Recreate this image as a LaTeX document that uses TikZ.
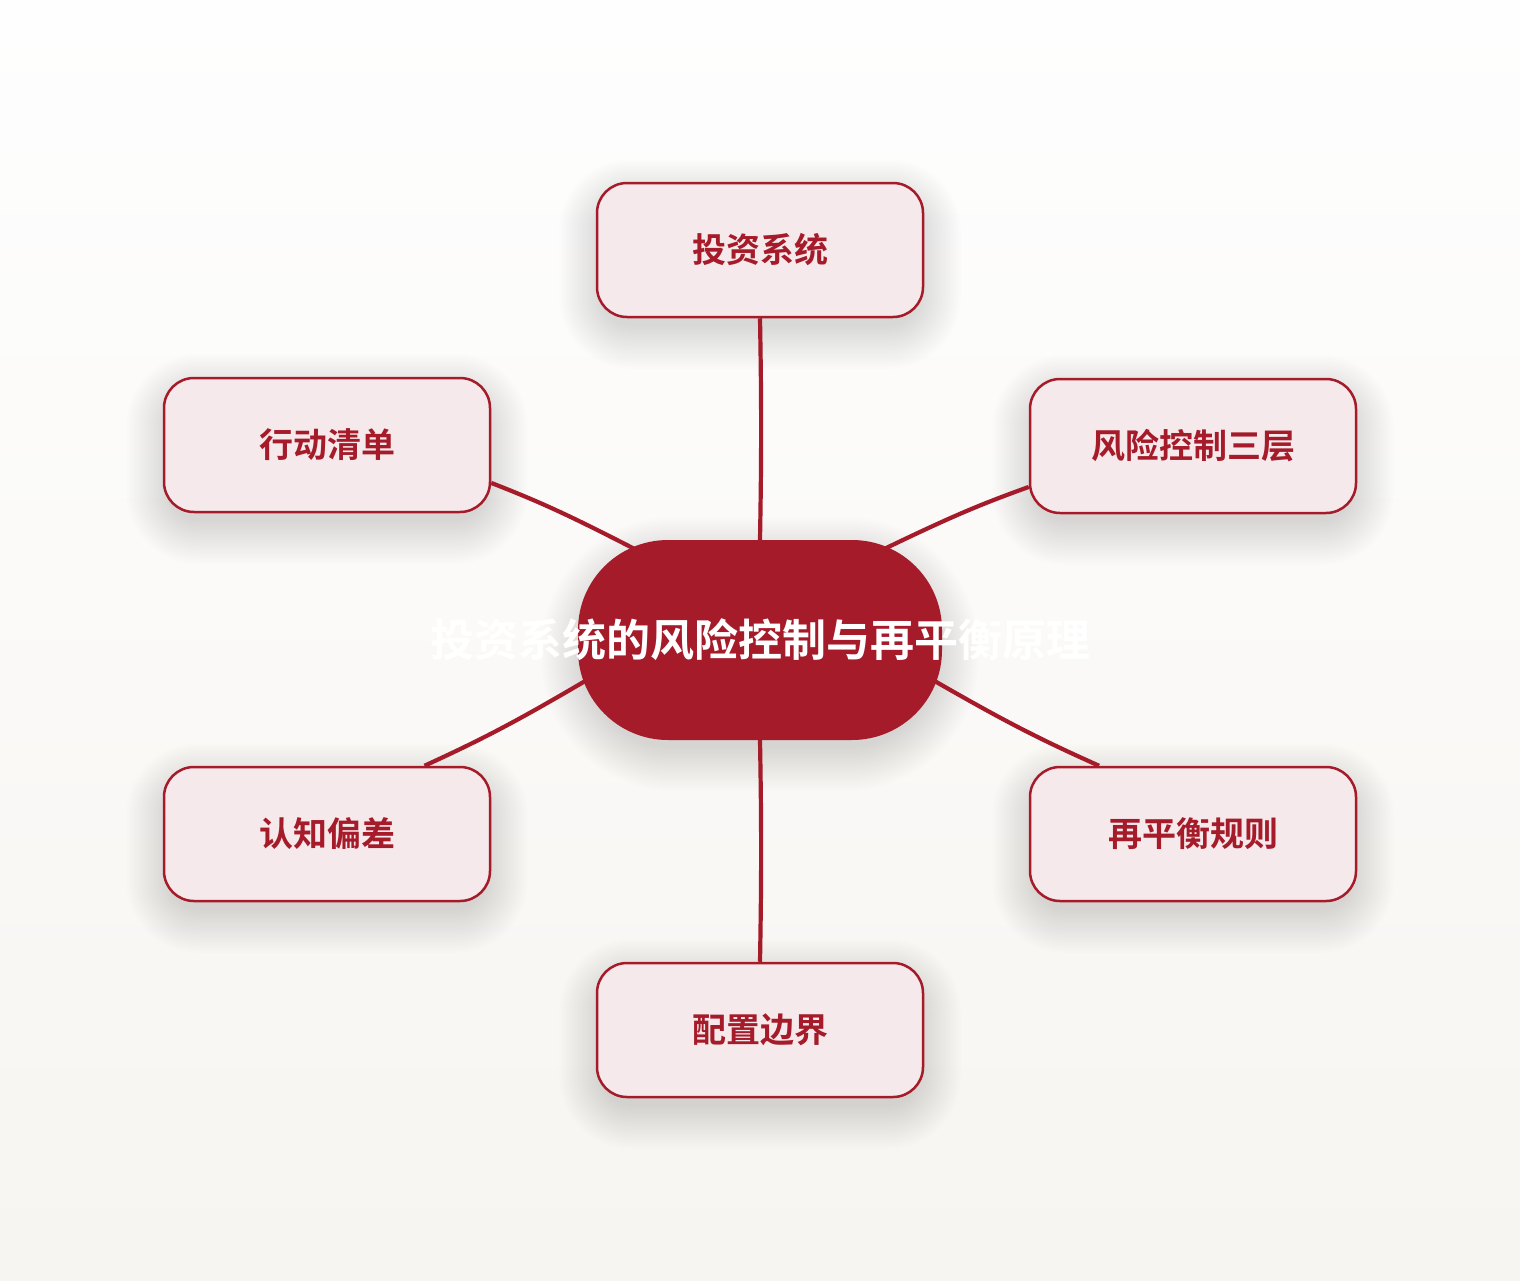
\documentclass[tikz,border=0pt]{standalone}
\usepackage{fontspec}
\newfontfamily\cjk{Noto Sans CJK SC}[UprightFont=* Bold]
\definecolor{brand}{RGB}{165,27,42}
\definecolor{satfill}{RGB}{245,233,235}
\definecolor{bgtop}{RGB}{254,254,254}
\definecolor{bgbot}{RGB}{247,245,241}
\pgfdeclarelayer{bg}
\pgfdeclarelayer{shadow}
\pgfdeclarelayer{edges}
\pgfsetlayers{bg,shadow,edges,main}
\newcommand\softshadow[2]{%
  \begin{pgfonlayer}{shadow}
  \foreach \i in {0,...,17}{
    \pgfmathsetlengthmacro\rr{#2+2.5*\i}
    \pgfmathsetlengthmacro\dd{2.5*\i-6}
    \fill[black,opacity=0.0085,rounded corners=\rr]
      ([xshift=-\dd,yshift=-14pt-\dd]#1.south west) rectangle
      ([xshift=\dd,yshift=-14pt+\dd]#1.north east);
  }
  \end{pgfonlayer}}
\tikzset{
  satbox/.style={draw=brand,line width=2.5pt,fill=satfill,rounded corners=30pt,
    minimum width=326pt,minimum height=134pt,inner sep=0pt,
    font=\cjk\fontsize{34}{40}\selectfont,text=brand},
  hub/.style={fill=brand,rounded corners=90pt,minimum width=364pt,minimum height=200pt,
    inner sep=0pt,font=\cjk\fontsize{44}{52}\selectfont,text=white},
  link/.style={draw=brand,line width=4.2pt}
}
\begin{document}
\begin{tikzpicture}[x=1pt,y=-1pt]
\useasboundingbox (0,0) rectangle (1520,1280);
\begin{pgfonlayer}{bg}
\shade[top color=bgtop,bottom color=bgbot] (0,0) rectangle (1520,1280);
\end{pgfonlayer}

\node[hub] (c) at (760,640) {\makebox[0pt]{\raisebox{-2pt}{投资系统的风险控制与再平衡原理}}};
\node[satbox] (t) at (760,250) {\raisebox{-3pt}{投资系统}};
\node[satbox] (tl) at (327,445) {\raisebox{-3pt}{行动清单}};
\node[satbox] (tr) at (1193,446) {\raisebox{-3pt}{风险控制三层}};
\node[satbox] (bl) at (327,834) {\raisebox{-3pt}{认知偏差}};
\node[satbox] (br) at (1193,834) {\raisebox{-3pt}{再平衡规则}};
\node[satbox] (b) at (760,1030) {\raisebox{-3pt}{配置边界}};

\softshadow{c}{90pt}
\softshadow{t}{30pt}
\softshadow{tl}{30pt}
\softshadow{tr}{30pt}
\softshadow{bl}{30pt}
\softshadow{br}{30pt}
\softshadow{b}{30pt}

\begin{pgfonlayer}{edges}
\draw[link] (t.south) to[bend left=1] (c.north);
\draw[link] (c.south) to[bend left=1] (b.north);
\draw[link,shorten >=-30pt] (tl.-13.5) to[bend left=3] (c.145);
\draw[link,shorten >=-30pt] (tr.-166.2) to[bend right=3] (c.35);
\draw[link,shorten >=-30pt] (bl.35.8) to[bend right=3] (c.194);
\draw[link,shorten >=-30pt] (br.144.2) to[bend left=3] (c.-14.7);
\end{pgfonlayer}
\end{tikzpicture}
\end{document}
